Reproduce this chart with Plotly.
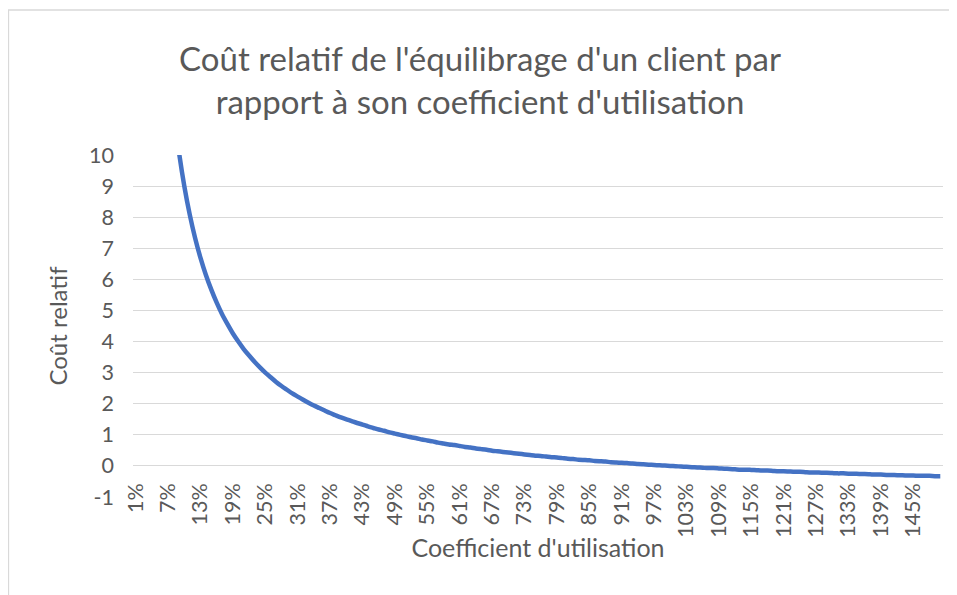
import plotly.graph_objects as go

# Category labels (utilisation coefficient, 1% .. 150%)
categories = [f"{k}%" for k in range(1, 151)]

# Relative cost (values above 10 are off-chart and clipped)
relative_cost = [
    99.0, 49.0, 32.33, 24.0, 19.0, 15.67, 13.29, 11.5, 10.11, 9.0,
    8.09, 7.33, 6.69, 6.14, 5.67, 5.25, 4.88, 4.56, 4.26, 4.0,
    3.76, 3.55, 3.35, 3.17, 3.0, 2.85, 2.70, 2.57, 2.45, 2.33,
    2.23, 2.13, 2.03, 1.94, 1.86, 1.78, 1.70, 1.63, 1.56, 1.5,
    1.44, 1.38, 1.33, 1.27, 1.22, 1.17, 1.13, 1.08, 1.04, 1.0,
    0.96, 0.92, 0.89, 0.85, 0.82, 0.79, 0.75, 0.72, 0.69, 0.67,
    0.64, 0.61, 0.59, 0.56, 0.54, 0.52, 0.49, 0.47, 0.45, 0.43,
    0.41, 0.39, 0.37, 0.35, 0.33, 0.32, 0.30, 0.28, 0.27, 0.25,
    0.23, 0.22, 0.20, 0.19, 0.18, 0.16, 0.15, 0.14, 0.12, 0.11,
    0.10, 0.09, 0.08, 0.06, 0.05, 0.04, 0.03, 0.02, 0.01, 0.0,
    -0.01, -0.02, -0.03, -0.04, -0.05, -0.06, -0.07, -0.07, -0.08, -0.09,
    -0.10, -0.11, -0.12, -0.12, -0.13, -0.14, -0.15, -0.15, -0.16, -0.17,
    -0.17, -0.18, -0.19, -0.19, -0.20, -0.21, -0.21, -0.22, -0.22, -0.23,
    -0.24, -0.24, -0.25, -0.25, -0.26, -0.26, -0.27, -0.28, -0.28, -0.29,
    -0.29, -0.30, -0.30, -0.31, -0.31, -0.32, -0.32, -0.32, -0.33, -0.33,
]

y_ticks = list(range(-1, 11))
y_tick_labels = [str(v) for v in y_ticks]
y_min, y_max = -1, 10

title_text = "Coût relatif de l'équilibrage d'un client par<br>rapport à son coefficient d'utilisation"
x_title = "Coefficient d'utilisation"
y_title = "Coût relatif"

FONT = "Lato"
GREY = "#595959"
GRID = "#d9d9d9"

# the page body has an 8px margin; figure sits at (8, 8)
W, H = 949, 587
L, R, T, B = 125, 14, 147, 98
pw, ph = W - L - R, H - T - B

fig = go.Figure()
fig.add_trace(go.Scatter(
    x=categories, y=relative_cost, mode="lines",
    line=dict(color="#4472C4", width=4.5, shape="spline", smoothing=0.6),
    hoverinfo="x+y", showlegend=False,
))

fig.update_layout(
    width=W, height=H,
    margin=dict(l=L, r=R, t=T, b=B),
    paper_bgcolor="white", plot_bgcolor="white",
    font=dict(family=FONT, color=GREY, size=21),
    title=dict(text=title_text, x=(480 - 8) / W, xanchor="center", y=1 - 63 / H, yanchor="middle",
               font=dict(family=FONT, size=33, color=GREY)),
    xaxis=dict(
        type="category", range=[-0.5, len(categories) - 0.5],
        tickmode="linear", tick0=0, dtick=6, tickangle=-90,
        showgrid=False, showline=False, ticks="",
        anchor="free", position=(0 - y_min) / (y_max - y_min),
        ticklabelstandoff=12,
        tickfont=dict(family=FONT, size=21.5, color=GREY),
        title=dict(text=x_title, font=dict(family=FONT, size=25, color=GREY), standoff=2),
        automargin=False,
    ),
    yaxis=dict(
        range=[y_min, y_max], tickmode="array", tickvals=y_ticks, ticktext=y_tick_labels,
        showgrid=True, gridcolor=GRID, gridwidth=1.3, zeroline=False,
        showline=False, ticks="", ticklen=0,
        ticklabelstandoff=18,
        tickfont=dict(family=FONT, size=21.5, color=GREY),
        title=dict(text=y_title, font=dict(family=FONT, size=24, color=GREY), standoff=14),
        automargin=False,
    ),
    shapes=[dict(
        type="rect", xref="paper", yref="paper",
        x0=(0.5 - L) / pw, x1=(W + 3 - L) / pw,
        y0=(-3 - B) / ph, y1=(H - 2 - B) / ph,
        line=dict(color=GRID, width=1.3), fillcolor="rgba(0,0,0,0)", layer="below",
    )],
)

fig.write_html("out.html")
